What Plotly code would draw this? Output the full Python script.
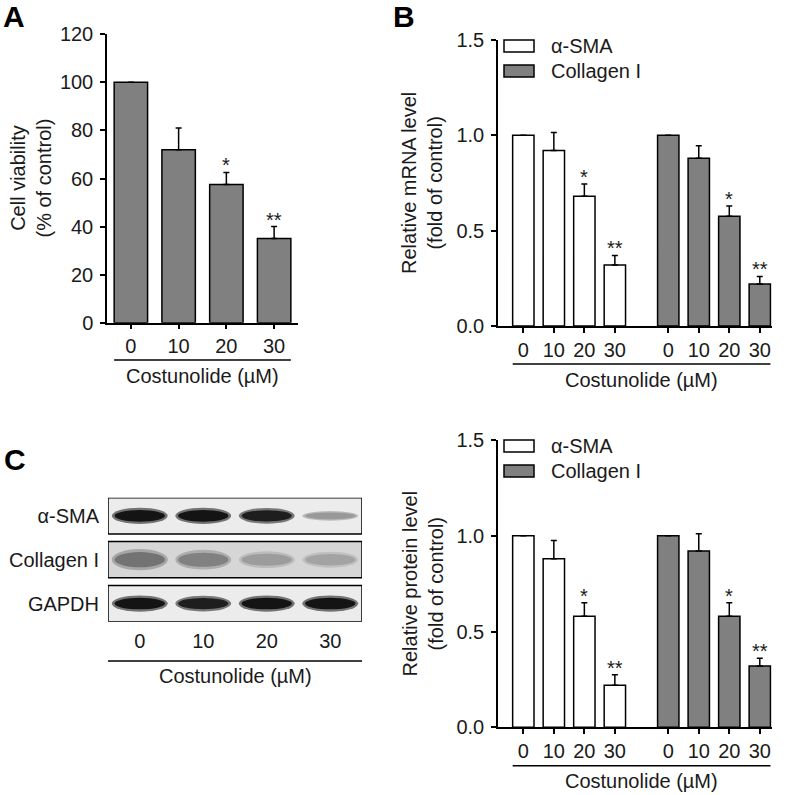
import plotly.graph_objects as go

W, H = 787, 795
def px(x): return x / W
def py(y): return 1 - y / H

FONT = "Liberation Sans, Arial, sans-serif"
TXT = "#1a1a1a"
GRAY = "#808080"
FS = 20

# ---------------- data ----------------
doses = ["0", "10", "20", "30"]
viability = [100, 72, 57.5, 35]
viability_err = [0, 9, 5, 5]
viability_sig = ["", "", "*", "**"]

series_names = ["α-SMA", "Collagen I"]
mrna_sma = [1.0, 0.92, 0.68, 0.32]
mrna_sma_err = [0, 0.095, 0.065, 0.05]
mrna_col = [1.0, 0.88, 0.575, 0.22]
mrna_col_err = [0, 0.065, 0.055, 0.04]
prot_sma = [1.0, 0.88, 0.58, 0.22]
prot_sma_err = [0, 0.095, 0.07, 0.055]
prot_col = [1.0, 0.92, 0.58, 0.32]
prot_col_err = [0, 0.09, 0.07, 0.04]
sig = ["", "", "*", "**"]

blot_rows = ["α-SMA", "Collagen I", "GAPDH"]
blot_sma = [1.0, 1.0, 0.95, 0.35]
blot_col = [0.8, 0.7, 0.5, 0.45]
blot_gapdh = [1.0, 0.95, 1.0, 1.0]
xlabel = "Costunolide (µM)"

# ---------------- style ----------------
GROUP_GAP = 4.75
BAR_W = 0.7
pos_a = list(range(len(doses)))
pos_sma = [i for i in range(len(doses))]
pos_col = [i + GROUP_GAP for i in range(len(doses))]

fig = go.Figure()

def err(arr):
    return dict(type="data", symmetric=False, array=arr, arrayminus=[0] * len(arr),
                color="black", thickness=1.5, width=3)

fig.add_trace(go.Bar(x=pos_a, y=viability, width=BAR_W, error_y=err(viability_err),
                     marker=dict(color=GRAY, line=dict(color="black", width=1.5)),
                     xaxis="x", yaxis="y", showlegend=False, hoverinfo="skip"))

for (xa, ya, s_vals, s_err, c_vals, c_err) in [
        ("x2", "y2", mrna_sma, mrna_sma_err, mrna_col, mrna_col_err),
        ("x3", "y3", prot_sma, prot_sma_err, prot_col, prot_col_err)]:
    fig.add_trace(go.Bar(x=pos_sma, y=s_vals, width=BAR_W, error_y=err(s_err),
                         marker=dict(color="white", line=dict(color="black", width=1.5)),
                         xaxis=xa, yaxis=ya, showlegend=False, hoverinfo="skip"))
    fig.add_trace(go.Bar(x=pos_col, y=c_vals, width=BAR_W, error_y=err(c_err),
                         marker=dict(color=GRAY, line=dict(color="black", width=1.5)),
                         xaxis=xa, yaxis=ya, showlegend=False, hoverinfo="skip"))

ROW_STEP = 1.21
row_centers = [r * ROW_STEP + 0.5 for r in range(len(blot_rows))]
fig.add_trace(go.Scatter(x=[0, 1, 2, 3], y=[row_centers[0]] * 4, mode="markers",
                         marker=dict(opacity=0), xaxis="x4", yaxis="y4",
                         showlegend=False, hoverinfo="skip"))

annotations = []
shapes = []

def stars(xs, vals, errs, labels, xref, yref):
    for x, v, e, t in zip(xs, vals, errs, labels):
        if t:
            annotations.append(dict(x=x, y=v + e, xref=xref, yref=yref, text=t,
                                    showarrow=False, yanchor="bottom", yshift=-6,
                                    font=dict(family=FONT, size=FS, color=TXT)))

stars(pos_a, viability, viability_err, viability_sig, "x", "y")
stars(pos_sma, mrna_sma, mrna_sma_err, sig, "x2", "y2")
stars(pos_col, mrna_col, mrna_col_err, sig, "x2", "y2")
stars(pos_sma, prot_sma, prot_sma_err, sig, "x3", "y3")
stars(pos_col, prot_col, prot_col_err, sig, "x3", "y3")

def axstyle(**kw):
    d = dict(showline=True, linecolor="black", linewidth=1.5, ticks="outside", ticklen=5,
             tickwidth=1.5, tickcolor="black", showgrid=False, zeroline=False,
             tickfont=dict(family=FONT, size=FS, color=TXT), fixedrange=True, automargin=False)
    d.update(kw)
    return d

layout = dict(
    width=W, height=H, margin=dict(l=0, r=0, t=0, b=0, pad=0, autoexpand=False),
    paper_bgcolor="white", plot_bgcolor="white", barmode="overlay", showlegend=False,
    xaxis=axstyle(domain=[px(107), px(298)], range=[-0.5, 3.5], anchor="y",
                  tickvals=pos_a, ticktext=doses),
    yaxis=axstyle(domain=[py(322.7), py(34.3)], range=[0, 120], dtick=20, anchor="x",
                  ticklabelstandoff=3),
    xaxis2=axstyle(domain=[px(498), px(771.7)], range=[-0.83, 8.14], anchor="y2",
                   tickvals=pos_sma + pos_col, ticktext=doses + doses),
    yaxis2=axstyle(domain=[py(326), py(40)], range=[0, 1.5], dtick=0.5, tickformat=".1f",
                   anchor="x2", ticklabelstandoff=3),
    xaxis3=axstyle(domain=[px(498), px(771.7)], range=[-0.83, 8.14], anchor="y3",
                   tickvals=pos_sma + pos_col, ticktext=doses + doses),
    yaxis3=axstyle(domain=[py(727.3), py(440)], range=[0, 1.5], dtick=0.5, tickformat=".1f",
                   anchor="x3", ticklabelstandoff=3),
    xaxis4=dict(domain=[px(108), px(362)], range=[-0.5, 3.5], anchor="y4", showline=False,
                ticks="", showgrid=False, zeroline=False, tickvals=[0, 1, 2, 3], ticktext=doses,
                ticklabelstandoff=5, tickfont=dict(family=FONT, size=FS, color=TXT),
                fixedrange=True, automargin=False),
    yaxis4=dict(domain=[py(621.7), py(497.7)], range=[ROW_STEP * 2 + 1, 0], anchor="x4",
                showline=False, ticks="", showgrid=False, zeroline=False,
                tickvals=row_centers, ticktext=blot_rows, ticklabelstandoff=8,
                tickfont=dict(family=FONT, size=FS, color=TXT), fixedrange=True, automargin=False),
)

for x, y, t in [(30, 178.5, "Cell viability<br>(% of control)"),
                (422, 183, "Relative mRNA level<br>(fold of control)"),
                (422, 583.5, "Relative protein level<br>(fold of control)")]:
    annotations.append(dict(x=px(x), y=py(y), xref="paper", yref="paper", text=t,
                            textangle=-90, showarrow=False, xanchor="center", yanchor="middle",
                            font=dict(family=FONT, size=FS, color=TXT)))

for xref, x0, x1, yl, yt in [("x", -0.35, 3.35, 360, 376),
                             ("x2", -0.35, GROUP_GAP + 3.35, 364, 380),
                             ("x3", -0.35, GROUP_GAP + 3.35, 765.7, 781),
                             ("x4", -0.5, 3.5, 661, 676)]:
    shapes.append(dict(type="line", xref=xref, yref="paper", x0=x0, x1=x1, y0=py(yl), y1=py(yl),
                       line=dict(color="black", width=1.5)))
    annotations.append(dict(x=(x0 + x1) / 2, y=py(yt), xref=xref, yref="paper", text=xlabel,
                            showarrow=False, xanchor="center", yanchor="middle",
                            font=dict(family=FONT, size=FS, color=TXT)))

for top in (40, 440):
    for k, (name, fc) in enumerate(zip(series_names, ["white", GRAY])):
        y0 = top + k * 25
        shapes.append(dict(type="rect", xref="paper", yref="paper", x0=px(504), x1=px(534),
                           y0=py(y0 + 12), y1=py(y0), fillcolor=fc,
                           line=dict(color="black", width=1.5)))
        annotations.append(dict(x=px(549), y=py(y0 + 6), xref="paper", yref="paper", text=name,
                                showarrow=False, xanchor="left", yanchor="middle",
                                font=dict(family=FONT, size=FS, color=TXT)))

for x, y, t in [(1, 17, "A"), (391, 17, "B"), (2, 459, "C")]:
    annotations.append(dict(x=px(x), y=py(y), xref="paper", yref="paper", text="<b>%s</b>" % t,
                            showarrow=False, xanchor="left", yanchor="middle",
                            font=dict(family=FONT, size=30, color="black")))

row_bg = ["#ececec", "#d6d6d6", "#ececec"]
row_blur = [1.0, 1.5, 1.0]
for r, (vals, bg, blur) in enumerate(zip([blot_sma, blot_col, blot_gapdh], row_bg, row_blur)):
    y0 = r * ROW_STEP
    shapes.append(dict(type="rect", xref="x4", yref="y4", x0=-0.5, x1=3.5, y0=y0, y1=y0 + 1,
                       fillcolor=bg, line=dict(width=0), layer="below"))
    c = y0 + 0.5
    for i, v in enumerate(vals):
        h = (0.06 + 0.1 * v) * blur
        hw = 0.44
        g_out = int(225 - 110 * v / blur)
        g_in = int(225 - 205 * v / blur)
        shapes.append(dict(type="circle", xref="x4", yref="y4", x0=i - hw, x1=i + hw,
                           y0=c - h * 1.4, y1=c + h * 1.4,
                           fillcolor="rgb(%d,%d,%d)" % (g_out, g_out, g_out), line=dict(width=0)))
        shapes.append(dict(type="circle", xref="x4", yref="y4", x0=i - hw * 0.9, x1=i + hw * 0.9,
                           y0=c - h, y1=c + h,
                           fillcolor="rgb(%d,%d,%d)" % (g_in, g_in, g_in), line=dict(width=0)))
    shapes.append(dict(type="rect", xref="x4", yref="y4", x0=-0.5, x1=3.5, y0=y0, y1=y0 + 1,
                       fillcolor="rgba(0,0,0,0)", line=dict(color="black", width=1.5)))

layout["annotations"] = annotations
layout["shapes"] = shapes
fig.update_layout(**layout)
fig.write_html("out.html", config={"displayModeBar": False},
               post_script="document.body.style.margin='0';")
